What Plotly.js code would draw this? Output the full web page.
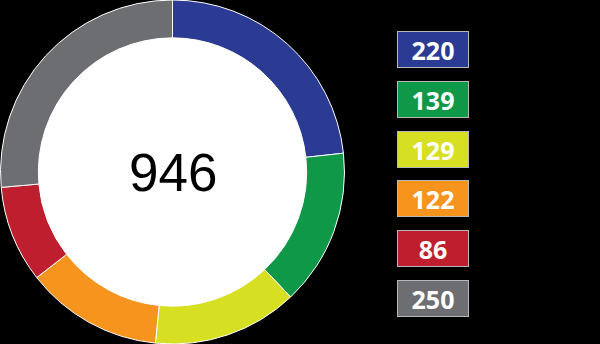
<!DOCTYPE html>
<html>
<head>
<meta charset="utf-8">
<script src="https://cdn.plot.ly/plotly-3.0.1.min.js"></script>
<style>html,body{margin:0;padding:0;background:#000;}#chart{width:600px;height:344px;}</style>
</head>
<body>
<div id="chart"></div>
<script>
const categories = ["A", "B", "C", "D", "E", "F"];
const values = [220, 139, 129, 122, 86, 250];
const colors = ["#2B3A92", "#0E9847", "#D7DF23", "#F7941E", "#BE1E2D", "#6D6E71"];
const totalLabel = String(values.reduce((a, b) => a + b, 0));

const W = 600, H = 344;
const cx = 172.5, cy = 172, holeR = 136;

const trace = {
  type: "pie",
  labels: categories,
  values: values,
  marker: { colors: colors, line: { color: "#FFFFFF", width: 1 } },
  hole: 0.78,
  sort: false,
  direction: "clockwise",
  rotation: 0,
  textinfo: "none",
  hoverinfo: "none",
  domain: { x: [0, 345 / W], y: [0, 1] }
};

const annotations = [{
  text: totalLabel,
  x: cx / W, y: 1 - cy / H, xref: "paper", yref: "paper",
  xanchor: "center", yanchor: "middle",
  showarrow: false,
  font: { family: "Liberation Sans, Arial, sans-serif", size: 53, color: "#000000" }
}];

values.forEach((v, i) => {
  annotations.push({
    text: "<b>" + v + "</b>",
    x: 433 / W, y: 1 - (49.5 + 49.8 * i) / H, xref: "paper", yref: "paper",
    xanchor: "center", yanchor: "middle",
    showarrow: false,
    width: 70, height: 35, borderpad: 0,
    bgcolor: colors[i], bordercolor: "#B8B8B8", borderwidth: 1,
    font: { family: "Open Sans, sans-serif", size: 25, color: "#FFFFFF" }
  });
});

const layout = {
  width: W, height: H,
  margin: { l: 0, r: 0, t: 0, b: 0, pad: 0 },
  paper_bgcolor: "#000000",
  plot_bgcolor: "#000000",
  showlegend: false,
  shapes: [{
    type: "circle", xref: "paper", yref: "paper", layer: "below",
    x0: (cx - holeR) / W, x1: (cx + holeR) / W,
    y0: 1 - (cy + holeR) / H, y1: 1 - (cy - holeR) / H,
    fillcolor: "#FFFFFF", line: { width: 0 }
  }],
  annotations: annotations
};

Plotly.newPlot("chart", [trace], layout, { displayModeBar: false, staticPlot: true });
</script>
</body>
</html>
